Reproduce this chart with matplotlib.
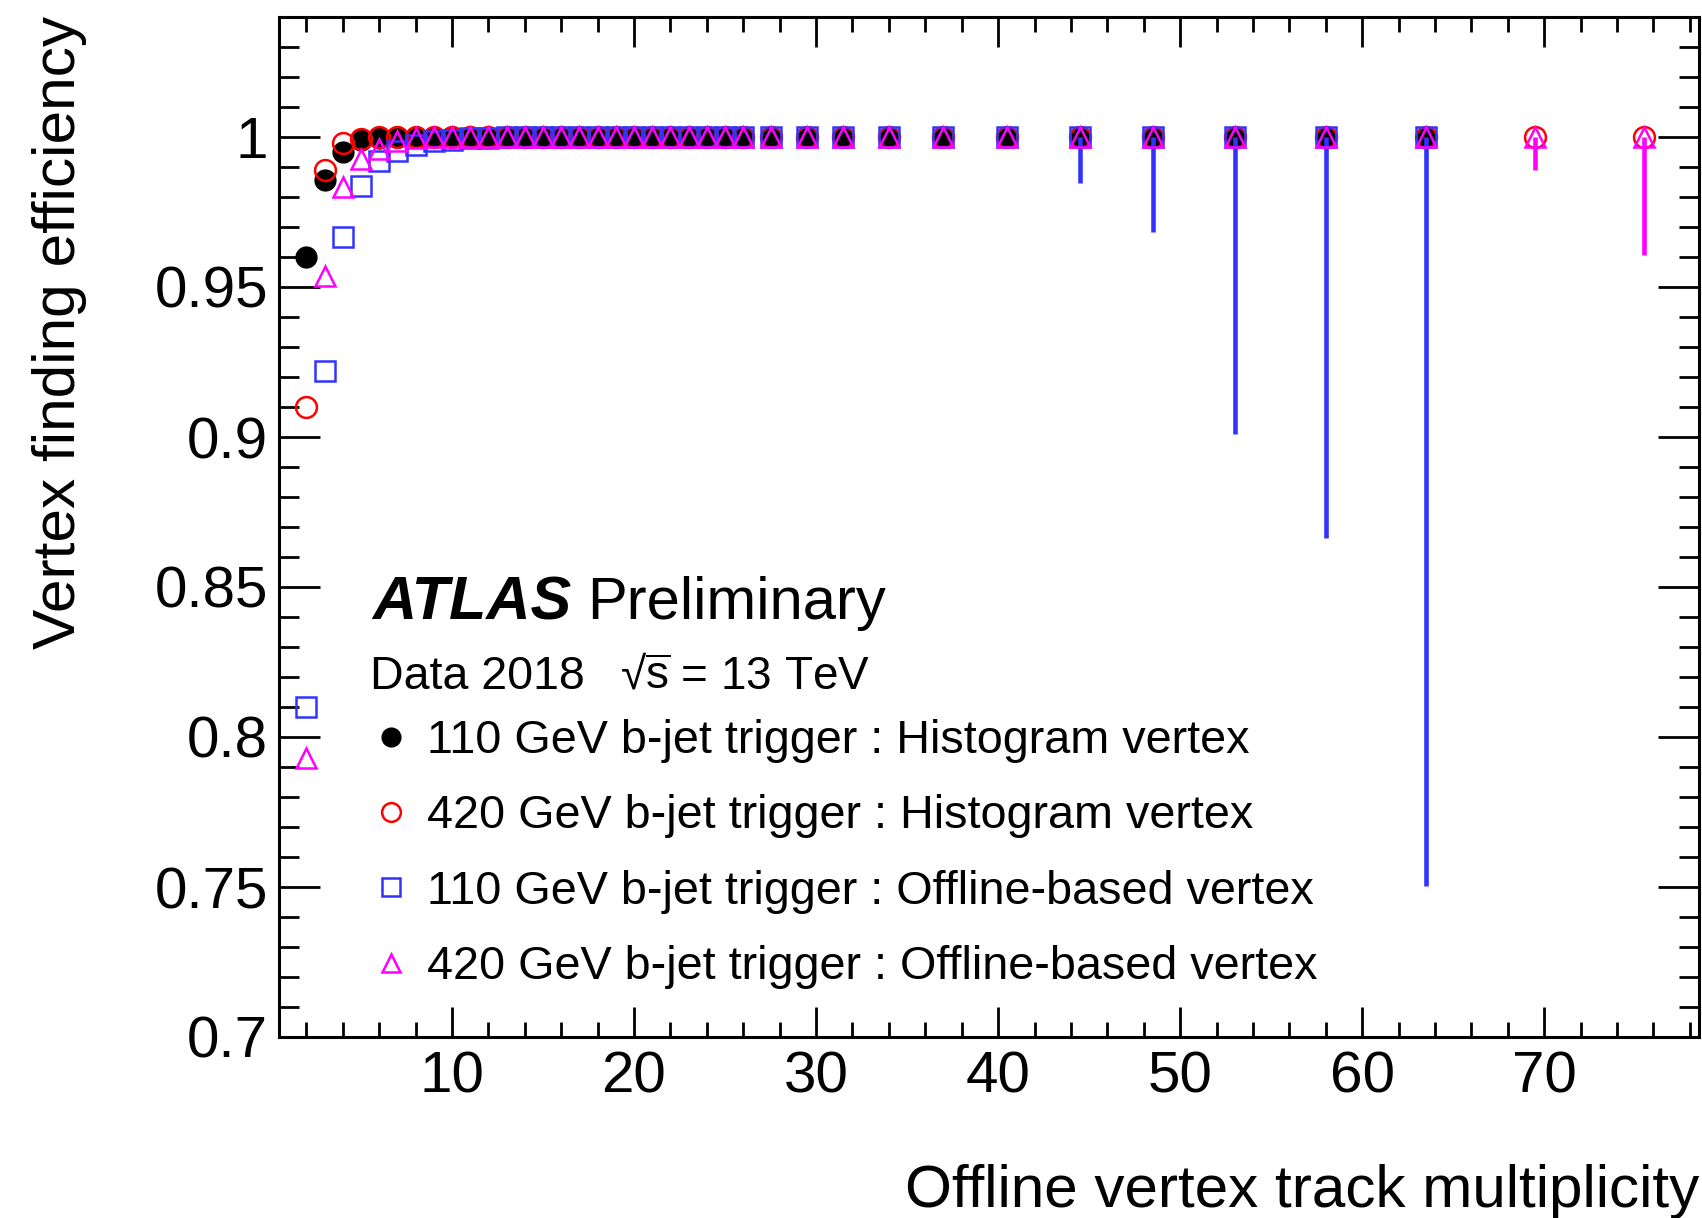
import matplotlib
matplotlib.use("Agg")
import matplotlib.pyplot as plt
from matplotlib.ticker import MultipleLocator, FuncFormatter

plt.rcParams["font.family"] = ["Liberation Sans", "DejaVu Sans"]
plt.rcParams["mathtext.fontset"] = "custom"
plt.rcParams["mathtext.rm"] = "Liberation Sans"
plt.rcParams["mathtext.it"] = "Liberation Sans:italic"

# bin centres (track multiplicity)
x_main = [2, 3, 4, 5, 6, 7, 8, 9, 10, 11, 12, 13, 14, 15, 16, 17, 18, 19, 20,
          21, 22, 23, 24, 25, 26, 27.5, 29.5, 31.5, 34, 37, 40.5, 44.5, 48.5,
          53, 58, 63.5]
x_long = x_main + [69.5, 75.5]

eff_hist110 = [0.960, 0.9856, 0.995, 0.999, 0.9997, 1.0, 1.0, 1.0, 1.0, 1.0,
               1.0, 1.0, 1.0, 1.0, 1.0, 1.0, 1.0, 1.0, 1.0, 1.0, 1.0, 1.0,
               1.0, 1.0, 1.0, 1.0, 1.0, 1.0, 1.0, 1.0, 1.0, 1.0, 1.0, 1.0,
               1.0, 1.0]
eff_hist420 = [0.910, 0.989, 0.998, 0.9993, 1.0, 1.0, 1.0, 1.0, 1.0, 1.0,
               1.0, 1.0, 1.0, 1.0, 1.0, 1.0, 1.0, 1.0, 1.0, 1.0, 1.0, 1.0,
               1.0, 1.0, 1.0, 1.0, 1.0, 1.0, 1.0, 1.0, 1.0, 1.0, 1.0, 1.0,
               1.0, 1.0, 1.0, 1.0]
eff_offl110 = [0.810, 0.922, 0.9668, 0.9838, 0.9919, 0.9952, 0.9974, 0.9986,
               0.9991, 0.9996, 0.9998, 1.0, 1.0, 1.0, 1.0, 1.0, 1.0, 1.0, 1.0,
               1.0, 1.0, 1.0, 1.0, 1.0, 1.0, 1.0, 1.0, 1.0, 1.0, 1.0, 1.0,
               1.0, 1.0, 1.0, 1.0, 1.0]
eff_offl420 = [0.793, 0.9537, 0.9834, 0.9927, 0.996, 0.9986, 0.9996, 1.0, 1.0,
               1.0, 1.0, 1.0, 1.0, 1.0, 1.0, 1.0, 1.0, 1.0, 1.0, 1.0, 1.0, 1.0,
               1.0, 1.0, 1.0, 1.0, 1.0, 1.0, 1.0, 1.0, 1.0, 1.0, 1.0, 1.0,
               1.0, 1.0, 1.0, 1.0]
# lower error bars (upper ones are zero, eff = 1)
err_offl110 = [0, 0, 0, 0, 0, 0, 0, 0, 0, 0, 0, 0, 0, 0, 0, 0, 0, 0, 0, 0,
               0, 0, 0, 0, 0, 0, 0, 0, 0, 0, 0, 0.0153, 0.0318, 0.0991,
               0.1335, 0.2496]
err_offl420 = [0, 0, 0, 0, 0, 0, 0, 0, 0, 0, 0, 0, 0, 0, 0, 0, 0, 0, 0, 0,
               0, 0, 0, 0, 0, 0, 0, 0, 0, 0, 0, 0, 0, 0, 0, 0, 0.0109, 0.0393]

labels = ["110 GeV b-jet trigger : Histogram vertex",
          "420 GeV b-jet trigger : Histogram vertex",
          "110 GeV b-jet trigger : Offline-based vertex",
          "420 GeV b-jet trigger : Offline-based vertex"]

BLUE, MAG, RED = "#3333ff", "#ff00ff", "#ff0000"

fig = plt.figure(figsize=(17.02, 12.18), dpi=100)
ax = fig.add_axes([279 / 1702, 181 / 1218, 1420 / 1702, 1020 / 1218])

h1, = ax.plot(x_main, eff_hist110, "o", ms=15, color="black", mec="black",
              ls="none", zorder=3, label=labels[0])
h2, = ax.plot(x_long, eff_hist420, "o", ms=15, mfc="none", mec=RED, mew=1.8,
              ls="none", zorder=4, label=labels[1])
ax.errorbar(x_main, eff_offl110, yerr=[err_offl110, [0] * len(x_main)],
            fmt="none", ecolor=BLUE, elinewidth=3.3, capsize=0, zorder=5)
h3, = ax.plot(x_main, eff_offl110, "s", ms=14.5, mfc="none", mec=BLUE, mew=1.8,
              ls="none", zorder=5, label=labels[2])
ax.errorbar(x_long, eff_offl420, yerr=[err_offl420, [0] * len(x_long)],
            fmt="none", ecolor=MAG, elinewidth=3.3, capsize=0, zorder=6)
h4, = ax.plot(x_long, eff_offl420, "^", ms=15, mfc="none", mec=MAG, mew=1.8,
              ls="none", zorder=6, label=labels[3])

ax.set_xlim(0.5, 78.5)
ax.set_ylim(0.7, 1.04)
ax.xaxis.set_major_locator(MultipleLocator(10))
ax.xaxis.set_minor_locator(MultipleLocator(2))
ax.yaxis.set_major_locator(MultipleLocator(0.05))
ax.yaxis.set_minor_locator(MultipleLocator(0.01))
ax.yaxis.set_major_formatter(FuncFormatter(lambda v, p: f"{v:g}"))
ax.xaxis.set_major_formatter(FuncFormatter(lambda v, p: f"{v:g}"))
for s in ax.spines.values():
    s.set_linewidth(2.2)
ax.tick_params(axis="both", which="both", direction="in", top=True, right=True,
               width=2.0, labelsize=42)
ax.tick_params(axis="x", which="major", length=21.6, pad=10)
ax.tick_params(axis="x", which="minor", length=10.8)
ax.tick_params(axis="y", which="major", length=29.5, pad=8)
ax.tick_params(axis="y", which="minor", length=14.4)

ax.set_xlabel("Offline vertex track multiplicity", fontsize=43.4, ha="right",
              va="baseline")
ax.xaxis.set_label_coords(1.0, (1037 - 1207) / 1020)
ax.set_ylabel("Vertex finding efficiency", fontsize=43.5, rotation=90,
              rotation_mode="anchor", ha="right", va="baseline")
ax.yaxis.set_label_coords((75 - 279) / 1420, (1037 - 16) / 1020)

fig.text(372 / 1702, 1 - 619 / 1218, "ATLAS", fontsize=44, fontweight="bold",
         fontstyle="italic", va="baseline")
fig.text(587 / 1702, 1 - 619 / 1218, "Preliminary", fontsize=43, va="baseline")
fig.text(370 / 1702, 1 - 689 / 1218, "Data 2018", fontsize=33.5, va="baseline")
fig.text(620 / 1702, 1 - 689 / 1218, r"√$\overline{\mathrm{s}}$ = 13 TeV",
         fontsize=33, va="baseline")

ax.legend(handles=[h1, h2, h3, h4], loc="upper left",
          bbox_to_anchor=(372 / 1702, 1 - 719 / 1218),
          bbox_transform=fig.transFigure, frameon=False, fontsize=33.7,
          handlelength=0.8, handletextpad=0.37, labelspacing=0.67,
          borderpad=0, borderaxespad=0, markerscale=0.9, numpoints=1)

fig.savefig("out.png", dpi=100)
